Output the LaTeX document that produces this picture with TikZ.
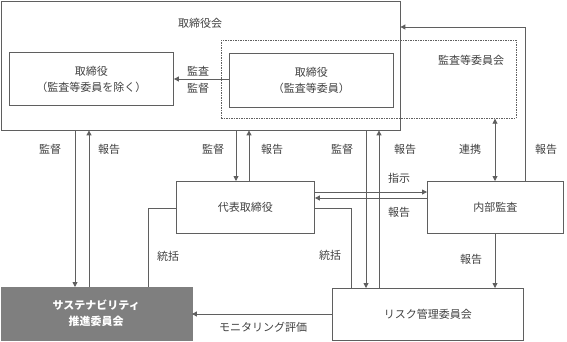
\documentclass[tikz,border=0pt]{standalone}
\usepackage{fontspec}
\setmainfont{Noto Sans CJK JP}
\usetikzlibrary{arrows.meta}
\definecolor{ln}{HTML}{5F5F5F}
\definecolor{tx}{HTML}{404040}
\definecolor{sus}{HTML}{7F7F7F}
\begin{document}
\begin{tikzpicture}[x=1pt,y=-1pt,
  every node/.style={font=\fontsize{11}{16}\selectfont, text=tx, inner sep=0pt},
  box/.style={draw=ln, line width=0.9pt, minimum width=#1},
  lbl/.style={},
  con/.style={draw=ln, line width=0.9pt},
  arr/.style={con, -{Triangle[length=5pt,width=5pt]}},
  darr/.style={con, {Triangle[length=5pt,width=5pt]}-{Triangle[length=5pt,width=5pt]}}]
\useasboundingbox (0,0) rectangle (567,341);
% boxes
\node[box=399pt, minimum height=129pt, anchor=north west] (board) at (0.5,0.5) {};
\node[draw=ln, line width=0.7pt, dash pattern=on 1.5pt off 1pt, minimum width=295pt, minimum height=78pt, anchor=north west] (ac) at (221,40) {};
\node[box=164pt, minimum height=53pt, align=center, anchor=north west] (d1) at (9,52) {取締役\\（監査等委員を除く）};
\node[box=164pt, minimum height=54pt, align=center, anchor=north west] (d2) at (229,53) {取締役\\（監査等委員）};
\node[box=138pt, minimum height=52pt, anchor=north west] (rep) at (176,181) {代表取締役};
\node[box=136pt, minimum height=52pt, anchor=north west] (ia) at (427,181) {内部監査};
\node[draw=sus, fill=sus, minimum width=191pt, minimum height=53pt, align=center, anchor=north west, text=white, font=\fontsize{11}{16}\selectfont\bfseries] (sus) at (0.5,287) {サステナビリティ\\推進委員会};
\node[box=191pt, minimum height=52pt, anchor=north west] (risk) at (332,288) {リスク管理委員会};
% titles
\node (tboard) at (200,23) {取締役会};
\node (tac) at (471,60) {監査等委員会};
% x positions
\coordinate (xa) at (75,0);
\coordinate (xb) at (89,0);
\coordinate (xc) at (236,0);
\coordinate (xd) at (249,0);
\coordinate (xe) at (366,0);
\coordinate (xf) at (379,0);
\coordinate (xg) at (495,0);
\coordinate (xh) at (525,0);
\coordinate (xi) at (148,0);
\coordinate (xj) at (351,0);
\coordinate (ya) at (0,27);
\coordinate (yb) at (0,192);
\coordinate (yc) at (0,198);
\coordinate (yd) at (0,208);
\coordinate (ye) at (0,314);
\coordinate (yf) at (0,79);
% connectors
\draw[arr] (d2.west |- yf) -- (d1.east |- yf);
\draw[arr] (board.south -| xa) -- (sus.north -| xa);
\draw[arr] (sus.north -| xb) -- (board.south -| xb);
\draw[arr] (board.south -| xc) -- (rep.north -| xc);
\draw[arr] (rep.north -| xd) -- (board.south -| xd);
\draw[arr] (board.south -| xe) -- (risk.north -| xe);
\draw[arr] (risk.north -| xf) -- (board.south -| xf);
\draw[darr] (ac.south -| xg) -- (ia.north -| xg);
\draw[arr] (ia.north -| xh) -- (xh |- ya) -- (board.east |- ya);
\draw[arr] (rep.east |- yb) -- (ia.west |- yb);
\draw[arr] (ia.west |- yc) -- (rep.east |- yc);
\draw[con] (rep.west |- yd) -- (xi |- yd) -- (sus.north -| xi);
\draw[con] (rep.east |- yd) -- (xj |- yd) -- (risk.north -| xj);
\draw[arr] (ia.south -| xg) -- (risk.north -| xg);
\draw[arr] (risk.west |- ye) -- (sus.east |- ye);
% labels
\node (l1) at (198,71) {監査};
\node (l2) at (198,88) {監督};
\node (l3) at (50,149) {監督};
\node (l4) at (109,149) {報告};
\node (l5) at (213,149) {監督};
\node (l6) at (272,149) {報告};
\node (l7) at (342,149) {監督};
\node (l8) at (405,149) {報告};
\node (l9) at (470,149) {連携};
\node (l10) at (546,149) {報告};
\node (l11) at (399,178) {指示};
\node (l12) at (399,212) {報告};
\node (l13) at (168,256) {統括};
\node (l14) at (330,255) {統括};
\node (l15) at (471,259) {報告};
\node (l16) at (263,327) {モニタリング評価};
\end{tikzpicture}
\end{document}
